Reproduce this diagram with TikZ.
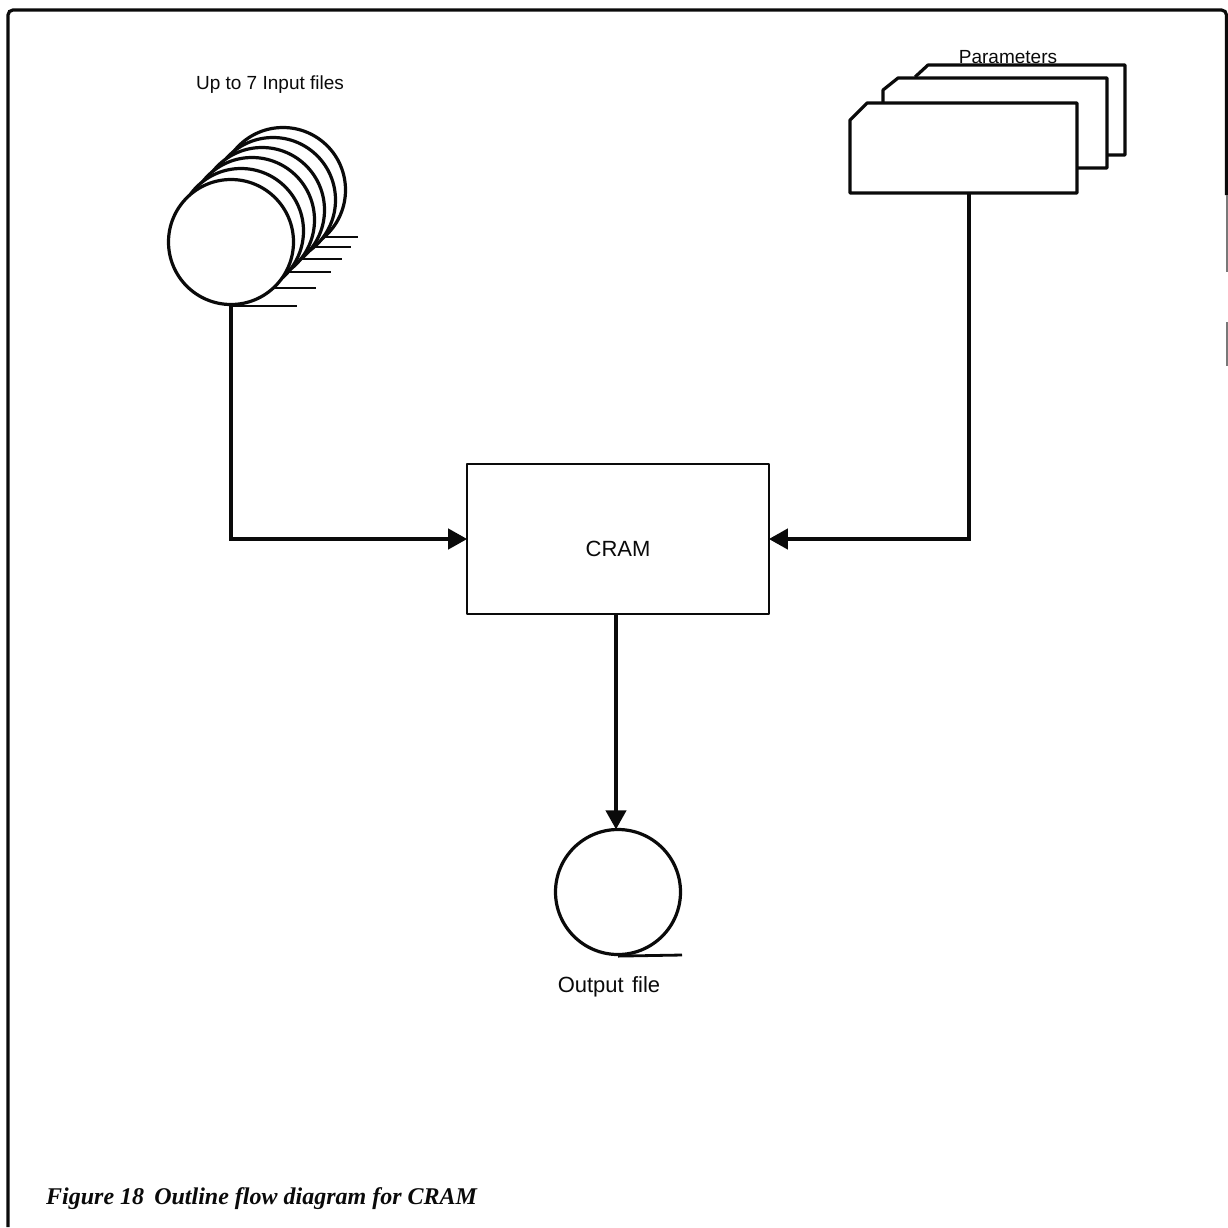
\documentclass[tikz,border=0pt]{standalone}
\usepackage{fontspec}
\setmainfont{Liberation Sans}
\newfontfamily\capfont{Liberation Serif}
\usetikzlibrary{
  arrows.meta,
  calc
}
\definecolor{inkclr}{RGB}{10, 10, 10}
\definecolor{fadeclr}{RGB}{120, 120, 120}
\tikzset{
  % Frame and outlines
  framerule/.style = {line width=3.2pt, draw=inkclr},
  fadedrule/.style = {line width=1.6pt, draw=fadeclr},
  outline/.style   = {line width=3.2pt, draw=inkclr, fill=white, line join=round},
  tailline/.style  = {line width=2.8pt, draw=inkclr},
  % Flow lines
  flowline/.style  = {line width=4pt, draw=inkclr, shorten >=-1.5pt, -{Triangle[length=19pt,width=20pt]}},
  % Shapes
  reelnode/.style  = {circle, outline, minimum size=125pt, inner sep=0pt},
  boxnode/.style   = {rectangle, outline, line width=2.6pt, minimum width=302pt, minimum height=150pt},
  % Labels
  lab/.style       = {font=\fontsize{19}{22}\selectfont, text=inkclr, inner sep=0pt},
  biglab/.style    = {font=\fontsize{22}{26}\selectfont, text=inkclr, inner sep=0pt},
  caplab/.style    = {font=\fontsize{24}{28}\selectfont\capfont\bfseries\itshape, text=inkclr, inner sep=0pt},
}
\begin{document}
\begin{tikzpicture}[x=1pt,y=-1pt]
  \useasboundingbox (0,0) rectangle (1228,1227);
  % Frame
  \draw[framerule, rounded corners=5pt] (8,1227) -- (8,10) -- (1226.5,10) -- (1226.5,195);
  \draw[fadedrule] (1227,195) -- (1227,272);
  \draw[fadedrule] (1227,322) -- (1227,366);
  % Input files, rear first
  \foreach \i/\cx/\cy/\ty/\tx in {6/283/190/237/358, 5/273/200/247/351, 4/262/210/259/342, 3/252/220/272/331, 2/241/231/288/316, 1/231/242/306/297}{
    \draw[tailline] (\cx,\ty) -- (\tx,\ty);
    \node[reelnode] (file\i) at (\cx,\cy) {};
  }
  \node[lab] (inlabel) at (270,85) {Up to 7 Input files};
  % Parameter cards, rear first
  \draw[outline] (915,77) -- (928,65) -- (1125,65) -- (1125,155) -- (1107,155);
  \draw[outline] (883,103) -- (883,90) -- (898,78) -- (1107,78) -- (1107,168) -- (1077,168);
  \draw[outline] (850,120) -- (867,103) -- (1077,103) -- (1077,193) -- (850,193) -- cycle;
  \coordinate (cardout) at (969,193);
  \node[lab] (parlabel) at (1008,57) {Parameters};
  % Program box
  \node[boxnode] (cram) at (618,539) {};
  \coordinate (cramout) at (616,614);
  \node[biglab] (cramlabel) at (618,549) {CRAM};
  % Output file
  \node[reelnode] (outfile) at (618,892) {};
  \coordinate (outtail) at (682,955);
  \draw[tailline] (outfile.south) -- (outtail);
  \node[biglab] (outlabel) at (609,987) {Output\hspace{0.1em} file};
  % Flow
  \draw[flowline] (file1.south) |- (cram.west);
  \draw[flowline] (cardout) |- (cram.east);
  \draw[flowline] (cramout) -- (cramout |- outfile.north);
  % Caption
  \node[caplab, anchor=west] (caption) at (46,1199) {Figure 18\hspace{0.42em}Outline flow diagram for CRAM};
\end{tikzpicture}
\end{document}
